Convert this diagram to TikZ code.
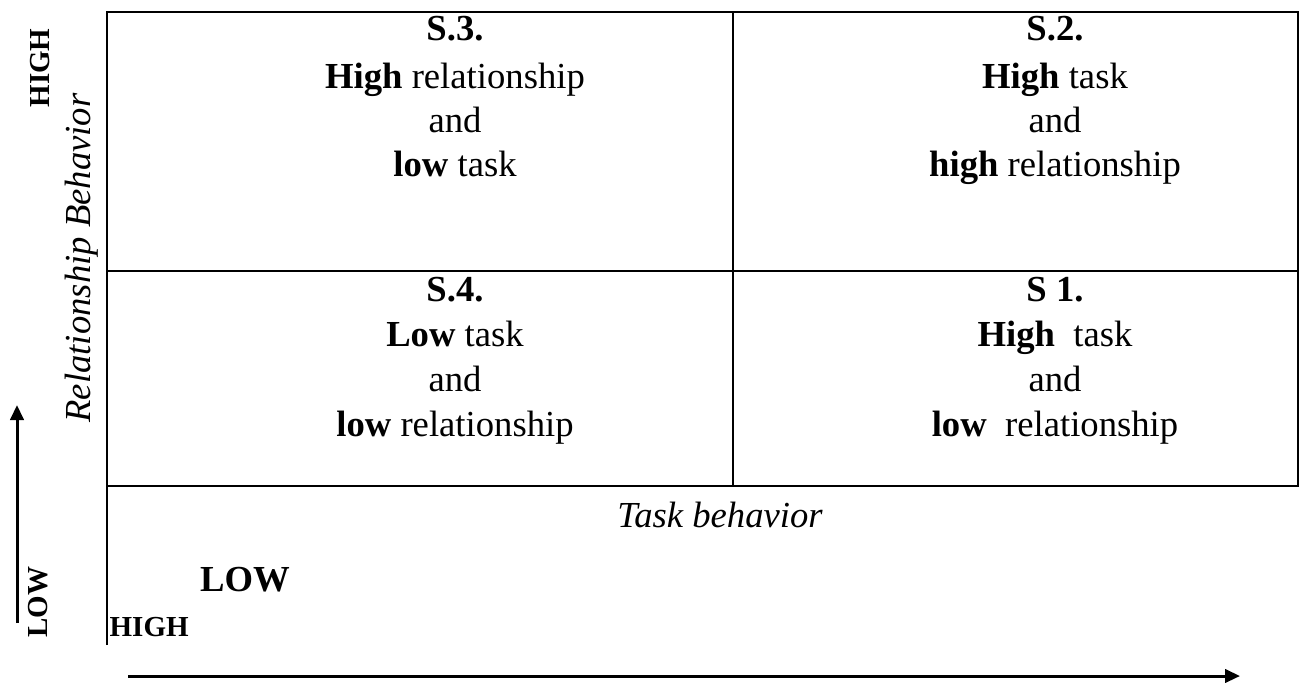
\documentclass[tikz,border=0pt]{standalone}
\usepackage{fontspec}
\setmainfont{Liberation Serif}
\usetikzlibrary{arrows.meta}
\begin{document}
\begin{tikzpicture}[x=0.3pt,y=-0.3pt,
  lbl/.style={inner sep=0pt, font=\fontsize{11}{13}\selectfont, anchor=base},
  small/.style={inner sep=0pt, font=\fontsize{8.7}{10}\selectfont\bfseries},
  side/.style={small, rotate=90, anchor=center},
  grid/.style={line width=0.75pt},
  axis/.style={line width=0.9pt, -{Triangle[length=4.5pt,width=4pt]}}]
\useasboundingbox (0,0) rectangle (1304,682);

% table corners and dividers
\coordinate (tl) at (107,12);
\coordinate (tr) at (1298,12);
\coordinate (ml) at (107,271);
\coordinate (mr) at (1298,271);
\coordinate (bl) at (107,486);
\coordinate (br) at (1298,486);
\coordinate (ct) at (733,12);
\coordinate (cb) at (733,486);
\coordinate (lend) at (107,645);

\draw[grid] (lend) -- (tl) -- (tr) -- (br) -- (bl);
\draw[grid] (ml) -- (mr);
\draw[grid] (ct) -- (cb);

% upper left cell
\node[lbl] (s3a) at (455,40) {\textbf{S.3.}};
\node[lbl] (s3b) at (455,88) {\textbf{High} relationship};
\node[lbl] (s3c) at (455,132) {and};
\node[lbl] (s3d) at (455,176) {\textbf{low} task};

% upper right cell
\node[lbl] (s2a) at (1055,40) {\textbf{S.2.}};
\node[lbl] (s2b) at (1055,88) {\textbf{High} task};
\node[lbl] (s2c) at (1055,132) {and};
\node[lbl] (s2d) at (1055,176) {\textbf{high} relationship};

% lower left cell
\node[lbl] (s4a) at (455,301) {\textbf{S.4.}};
\node[lbl] (s4b) at (455,346) {\textbf{Low} task};
\node[lbl] (s4c) at (455,391) {and};
\node[lbl] (s4d) at (455,436) {\textbf{low} relationship};

% lower right cell
\node[lbl] (s1a) at (1055,301) {\textbf{S 1.}};
\node[lbl] (s1b) at (1055,346) {\textbf{High}\ \ task};
\node[lbl] (s1c) at (1055,391) {and};
\node[lbl] (s1d) at (1055,436) {\textbf{low}\ \ relationship};

% axis captions
\node[lbl] (taskb) at (720,527) {\textit{Task behavior}};
\node[lbl] (xlow) at (245,591) {\textbf{LOW}};
\node[small, anchor=base west] (xhigh) at (109,636) {HIGH};
\node[side] (yhigh) at (40,68) {HIGH};
\node[side, font=\fontsize{11}{13}\selectfont\itshape] (ylab) at (82,258) {Relationship Behavior};
\node[side] (ylow) at (38,602) {LOW};

% axis arrows
\coordinate (xa) at (128,676);
\coordinate (xb) at (1240,676);
\coordinate (ya) at (17,623);
\coordinate (yb) at (17,405);
\draw[axis] (xa) -- (xb);
\draw[axis] (ya) -- (yb);
\end{tikzpicture}
\end{document}
